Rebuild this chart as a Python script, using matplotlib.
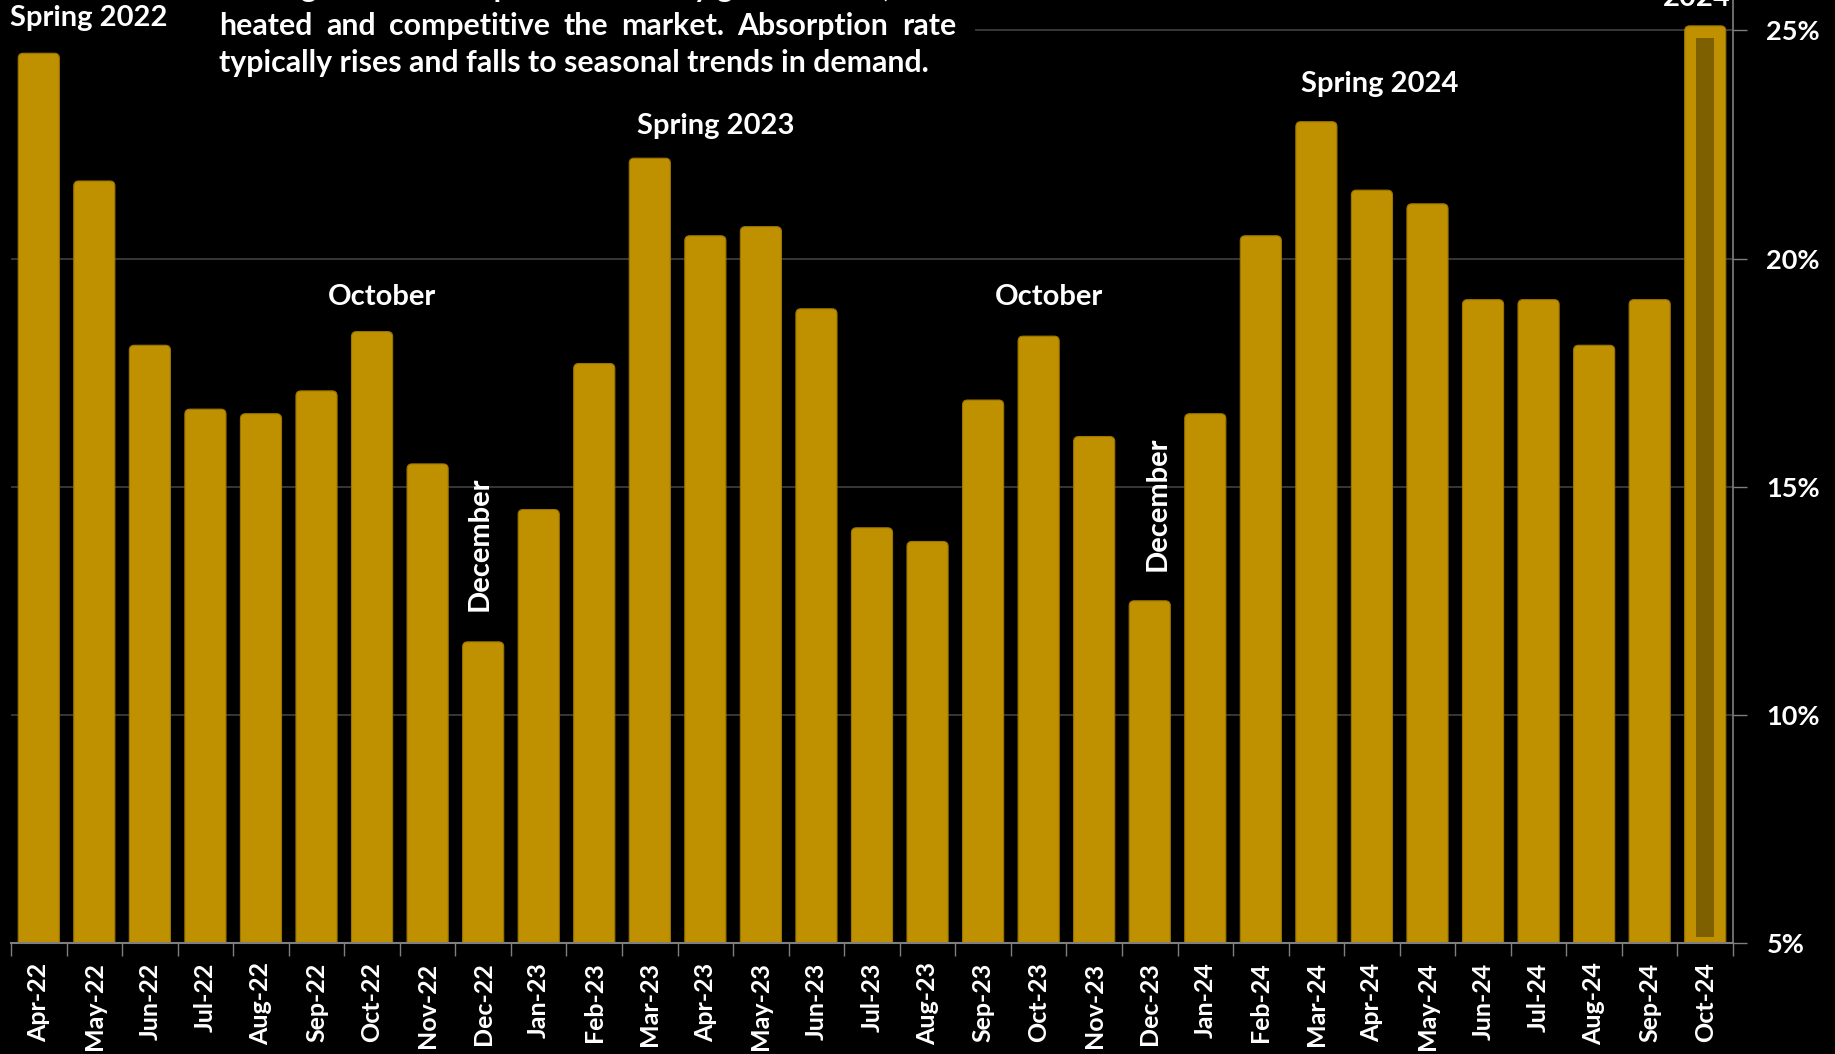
import matplotlib
matplotlib.use("Agg")
import matplotlib.pyplot as plt
from matplotlib.patches import FancyBboxPatch, Rectangle

# Monthly absorption rate (%)
months = ["Apr-22", "May-22", "Jun-22", "Jul-22", "Aug-22", "Sep-22", "Oct-22",
          "Nov-22", "Dec-22", "Jan-23", "Feb-23", "Mar-23", "Apr-23", "May-23",
          "Jun-23", "Jul-23", "Aug-23", "Sep-23", "Oct-23", "Nov-23", "Dec-23",
          "Jan-24", "Feb-24", "Mar-24", "Apr-24", "May-24", "Jun-24", "Jul-24",
          "Aug-24", "Sep-24", "Oct-24"]
absorption = [24.5, 21.7, 18.1, 16.7, 16.6, 17.1, 18.4, 15.5, 11.6, 14.5, 17.7,
              22.2, 20.5, 20.7, 18.9, 14.1, 13.8, 16.9, 18.3, 16.1, 12.5, 16.6,
              20.5, 23.0, 21.5, 21.2, 19.1, 19.1, 18.1, 19.1, 25.1]
y_ticks = [5, 10, 15, 20, 25]
y_tick_labels = ["5%", "10%", "15%", "20%", "25%"]

# Seasonal call-outs: (text, x position, y position, rotation)
callouts = [
    ("Spring 2022", 0.90, 25.28, 0),
    ("October", 6.18, 19.16, 0),
    ("December", 7.94, 13.74, 90),
    ("Spring 2023", 12.19, 22.90, 0),
    ("October", 18.19, 19.16, 0),
    ("December", 20.15, 14.62, 90),
    ("Spring 2024", 24.14, 23.83, 0),
]
latest_callout = ("October\n2024", 29.85, 25.43)

note_lines = [
    "The higher the absorption rate in any given month, the more",
    "heated and competitive the market. Absorption rate",
    "typically rises and falls to seasonal trends in demand.",
]

GOLD = "#BF9000"
DARK_GOLD = "#7F6000"
GRID = "#404040"
AXIS = "#7F7F7F"
FONT = "Lato"

W, H = 1835, 1054
fig = plt.figure(figsize=(W / 100, H / 100), dpi=100, facecolor="black")
ax = fig.add_axes([11 / W, 1 - 943 / H, (1733 - 11) / W, 943 / H])
ax.set_facecolor("black")

x = list(range(len(months)))
bars = ax.bar(x, absorption, width=0.74, color=GOLD, zorder=2)

# Replace plain rectangles with round-topped boxes
for rect in bars:
    rx, ry = rect.get_x(), rect.get_y()
    rw, rh = rect.get_width(), rect.get_height()
    box = FancyBboxPatch((rx, ry), rw, rh,
                         boxstyle="round,pad=0,rounding_size=0.09",
                         mutation_aspect=1.22, facecolor=GOLD,
                         edgecolor="#9c7600", linewidth=0.8, zorder=2)
    ax.add_patch(box)
    rect.set_visible(False)

# Latest month highlighted with a darker core
last = len(months) - 1
ax.bar(last, absorption[last] - 0.27 - 5.13, bottom=5.13, width=0.33,
       color=DARK_GOLD, zorder=3)

ax.set_xlim(-0.5, len(months) - 0.5)
ax.set_ylim(5, 25.667)

ax.yaxis.tick_right()
ax.set_yticks(y_ticks)
ax.set_yticklabels(y_tick_labels, fontsize=19.5, fontweight="bold",
                   color="white", family=FONT)
ax.tick_params(axis="y", direction="out", length=10, width=1, color=AXIS, pad=14)

ax.set_xticks(x)
ax.set_xticklabels(months, rotation=90, fontsize=18, fontweight="bold",
                   color="white", family=FONT)
ax.set_xticks([i - 0.5 for i in range(len(months) + 1)], minor=True)
ax.tick_params(axis="x", which="major", length=0, pad=14)
ax.tick_params(axis="x", which="minor", length=9, width=1, color=AXIS)

ax.set_axisbelow(True)
ax.grid(axis="y", color=GRID, linewidth=1.2)
for side in ("left", "top"):
    ax.spines[side].set_visible(False)
ax.spines["bottom"].set_color(AXIS)
ax.spines["bottom"].set_linewidth(1.5)
ax.spines["bottom"].set_zorder(4)
ax.spines["right"].set_color(AXIS)
ax.spines["right"].set_linewidth(1.2)

# Black panel behind the note
ax.add_patch(Rectangle((-0.5, 24.6), 17.35, 1.2, facecolor="black",
                       edgecolor="none", zorder=0.8))

for text, cx, cy, rot in callouts:
    ax.text(cx, cy, text, ha="center", va="center", rotation=rot,
            fontsize=21, fontweight="bold", color="white", family=FONT,
            zorder=5)
ax.text(latest_callout[1], latest_callout[2], latest_callout[0],
        ha="center", va="bottom", fontsize=21, fontweight="bold",
        color="white", family=FONT, linespacing=1.2, zorder=5)

# Note text, justified except for the final line
renderer = fig.canvas.get_renderer()
note_kw = dict(fontsize=21.8, fontweight="bold", color="white", family=FONT,
               va="center", ha="left", zorder=6)
left_px, right_px = 219, 956
line_y = [-12, 26, 63]
for i, (line, yc) in enumerate(zip(note_lines, line_y)):
    if i == len(note_lines) - 1:
        fig.text(left_px / W, 1 - yc / H, line, **note_kw)
        continue
    words = line.split()
    items = [fig.text(0, 0, w, **note_kw) for w in words]
    widths = [t.get_window_extent(renderer).width for t in items]
    gap = max((right_px - left_px - sum(widths)) / (len(words) - 1), 6)
    pos = left_px
    for t, w in zip(items, widths):
        t.set_position((pos / W, 1 - yc / H))
        pos += w + gap

fig.savefig("out.png", dpi=100, facecolor="black")
